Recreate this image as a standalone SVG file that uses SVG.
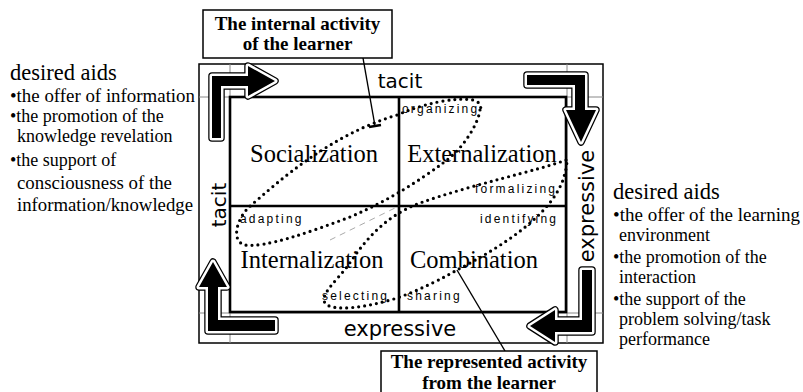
<svg xmlns="http://www.w3.org/2000/svg" xmlns:xlink="http://www.w3.org/1999/xlink" width="803" height="392" viewBox="0 0 803 392">
<style>
.serif{font-family:"Liberation Serif","Times New Roman",serif;fill:#000}
.head{font-size:22.5px}
.bodyL{font-size:18px}
.bodyR{font-size:18px}
.quad{font-family:"Liberation Serif","Times New Roman",serif;font-size:24.5px;text-anchor:middle;fill:#000}
.band{font-family:"DejaVu Sans",Verdana,sans-serif;font-size:20px;text-anchor:middle;fill:#000}
.small{font-family:"Liberation Sans",Arial,sans-serif;font-size:12px;letter-spacing:2.2px;fill:#000}
.call{font-family:"Liberation Serif","Times New Roman",serif;font-size:19px;font-weight:bold;text-anchor:middle;fill:#000}
.boxr{fill:#fff;stroke:#000;stroke-width:1.5}
.frame-o{fill:none;stroke:#000;stroke-width:1.5}
.frame-i{fill:none;stroke:#000;stroke-width:2.6}
.bandline{stroke:#888;stroke-width:1;fill:none}
.arr-o{fill:none;stroke:#000;stroke-width:7.5;stroke-linejoin:round}
.arr-w{fill:none;stroke:#fff;stroke-width:5;stroke-linejoin:round}
.arr-f{fill:#000;stroke:none}
.dots{fill:none;stroke:#000;stroke-width:3.2;stroke-linecap:round;stroke-dasharray:0 6}
.lead{stroke:#000;stroke-width:1.4;fill:none}
</style>
<defs>
<path id="a-tl" d="M212,138 L212,76 L248,76 L248,66 L275,81 L248,96 L248,86 L221,86 L221,138 Z"/>
<path id="a-tr" d="M527,75 L585,75 L585,110 L596,110 L581,142 L566,110 L575,110 L575,85 L527,85 Z"/>
<path id="a-bl" d="M208,287 L199,287 L213,262 L227,287 L218,287 L218,320 L275,320 L275,331 L208,331 Z"/>
<path id="a-br" d="M592,270 L592,332 L555,332 L555,342 L530,326 L555,310 L555,320 L582,320 L582,270 Z"/>
</defs>

<g id="frame">
<rect class="frame-o" x="199" y="64" width="404" height="279"/>
<line class="bandline" x1="230" y1="64" x2="230" y2="343"/>
<line class="bandline" x1="567" y1="64" x2="567" y2="343"/>
<line class="bandline" x1="199" y1="97" x2="603" y2="97"/>
<line class="bandline" x1="199" y1="313" x2="603" y2="313"/>
<rect class="frame-i" x="230" y="97" width="336" height="215"/>
<line class="frame-i" x1="399" y1="97" x2="399" y2="312"/>
<line class="frame-i" x1="230" y1="206" x2="566" y2="206"/>
</g>

<g id="arrows">
<use xlink:href="#a-tl" class="arr-o"/><use xlink:href="#a-tl" class="arr-w"/><use xlink:href="#a-tl" class="arr-f"/>
<use xlink:href="#a-tr" class="arr-o"/><use xlink:href="#a-tr" class="arr-w"/><use xlink:href="#a-tr" class="arr-f"/>
<use xlink:href="#a-bl" class="arr-o"/><use xlink:href="#a-bl" class="arr-w"/><use xlink:href="#a-bl" class="arr-f"/>
<use xlink:href="#a-br" class="arr-o"/><use xlink:href="#a-br" class="arr-w"/><use xlink:href="#a-br" class="arr-f"/>
</g>

<g id="band-labels">
<text class="band" x="400" y="88">tacit</text>
<text class="band" x="400" y="336" style="font-size:21px">expressive</text>
<text class="band" transform="translate(226,205) rotate(-90)">tacit</text>
<text class="band" transform="translate(594,206) rotate(-90)" style="font-size:21px">expressive</text>
</g>

<g id="socialization"><text class="quad" x="314" y="162">Socialization</text></g>
<g id="externalization"><text class="quad" x="482" y="162">Externalization</text></g>
<g id="internalization"><text class="quad" x="312" y="268">Internalization</text></g>
<g id="combination"><text class="quad" x="474" y="268">Combination</text></g>

<g id="loops">
<line x1="330" y1="240" x2="397" y2="207" stroke="#aaa" stroke-width="1" stroke-dasharray="6 5"/>
<path id="loop-internal" class="dots" d="M480,110 C478,125 462,150 443,163 C420,180 390,200 350,217 C310,232 265,248 245,245 C232,242 235,222 248,208 C280,180 330,135 397,115 C425,103 455,97 473,100 C480,102 482,106 480,110 Z"/>
<path id="loop-represented" class="dots" d="M566,160 C540,170 470,185 420,203 C385,216 365,240 347,267 C335,282 320,295 325,303 C332,312 365,308 397,298 C420,290 445,277 457,270 C505,245 550,215 563,180 C566,170 568,162 566,160 Z"/>
</g>

<g id="activities">
<text class="small" x="402" y="113">organizing</text>
<text class="small" x="475" y="193">formalizing</text>
<text class="small" x="240" y="223">adapting</text>
<text class="small" x="480" y="223">identifying</text>
<text class="small" x="322" y="300">selecting</text>
<text class="small" x="407" y="300">sharing</text>
</g>

<g id="connectors">
<line class="lead" x1="363" y1="58" x2="375" y2="126"/>
<line x1="369" y1="127" x2="381" y2="125" stroke="#000" stroke-width="2.5"/>
<line class="lead" x1="505" y1="351" x2="457" y2="270"/>
</g>

<g id="callout-internal">
<rect class="boxr" x="203" y="10" width="189" height="48"/>
<text class="call" x="297.5" y="30">The internal activity</text>
<text class="call" x="297.5" y="50">of the learner</text>
</g>

<g id="callout-represented">
<rect class="boxr" x="381" y="351" width="216" height="50"/>
<text class="call" x="489" y="368">The represented activity</text>
<text class="call" x="489" y="389">from the learner</text>
</g>

<g id="aids-left">
<text class="serif head" x="10" y="80">desired aids</text>
<text class="serif bodyL" x="10" y="102" textLength="185" lengthAdjust="spacingAndGlyphs">•the offer of information</text>
<text class="serif bodyL" x="10" y="122">•the promotion of the</text>
<text class="serif bodyL" x="17" y="142">knowledge revelation</text>
<text class="serif bodyL" x="10" y="166">•the support of</text>
<text class="serif bodyL" x="17" y="189" textLength="155" lengthAdjust="spacingAndGlyphs">consciousness of the</text>
<text class="serif bodyL" x="17" y="211" textLength="176" lengthAdjust="spacingAndGlyphs">information/knowledge</text>
</g>

<g id="aids-right">
<text class="serif head" x="613" y="199">desired aids</text>
<text class="serif bodyR" x="613" y="221" textLength="187" lengthAdjust="spacingAndGlyphs">•the offer of the learning</text>
<text class="serif bodyR" x="619" y="241">environment</text>
<text class="serif bodyR" x="613" y="263">•the promotion of the</text>
<text class="serif bodyR" x="619" y="283">interaction</text>
<text class="serif bodyR" x="613" y="305">•the support of the</text>
<text class="serif bodyR" x="619" y="325">problem solving/task</text>
<text class="serif bodyR" x="619" y="345">performance</text>
</g>
</svg>
